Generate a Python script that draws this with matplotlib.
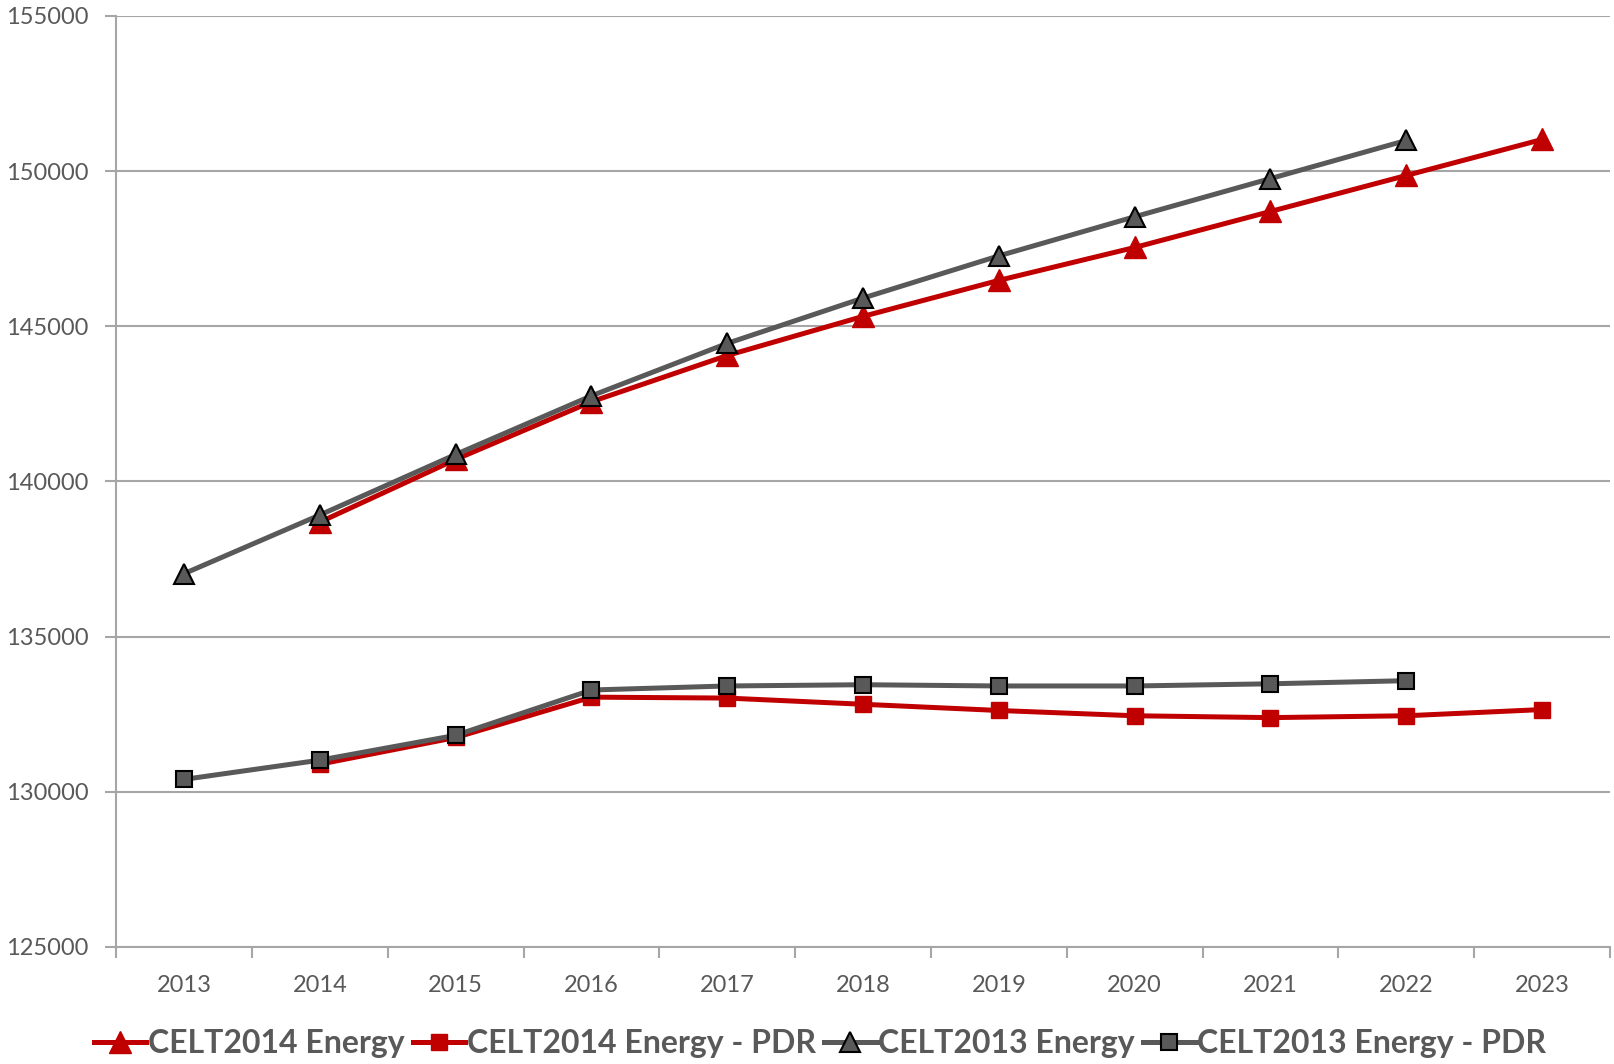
import matplotlib
matplotlib.use("Agg")
import matplotlib.pyplot as plt
from matplotlib.ticker import MultipleLocator, FixedLocator

# data (CELT2014 series start in 2014)
years = ["2013", "2014", "2015", "2016", "2017", "2018", "2019", "2020", "2021", "2022", "2023"]
celt2014_energy = [None, 138690, 140710, 142570, 144060, 145320, 146480, 147540, 148700, 149860, 151020]
celt2014_pdr = [None, 130890, 131750, 133050, 133020, 132820, 132620, 132450, 132390, 132450, 132650]
celt2013_energy = [137030, 138920, 140870, 142760, 144450, 145910, 147270, 148530, 149760, 150990]
celt2013_pdr = [130400, 131020, 131820, 133280, 133410, 133450, 133410, 133410, 133480, 133580]

RED = "#C00000"
GRAY = "#595959"
GRID = "#A6A6A6"
TXT = "#595959"

plt.rcParams["font.family"] = ["Lato", "DejaVu Sans"]

fig = plt.figure(figsize=(16.14, 10.64), dpi=100)
ax = fig.add_axes([0.072, 0.110, 0.9255, 0.875])

x = list(range(len(years)))
red_e = [float("nan") if v is None else v for v in celt2014_energy]
red_p = [float("nan") if v is None else v for v in celt2014_pdr]

ax.plot(x, red_e, color=RED, lw=3.6, marker="^", ms=16,
        mfc=RED, mec=RED, label="CELT2014 Energy", zorder=3)
ax.plot(x, red_p, color=RED, lw=3.6, marker="s", ms=12,
        mfc=RED, mec=RED, label="CELT2014 Energy - PDR", zorder=3)
ax.plot(x[:len(celt2013_energy)], celt2013_energy, color=GRAY, lw=3.6, marker="^", ms=15,
        mfc=GRAY, mec="black", mew=1.5, label="CELT2013 Energy", zorder=4)
ax.plot(x[:len(celt2013_pdr)], celt2013_pdr, color=GRAY, lw=3.6, marker="s", ms=11,
        mfc=GRAY, mec="black", mew=1.5, label="CELT2013 Energy - PDR", zorder=4)

ax.set_xlim(-0.5, len(years) - 0.5)
ax.set_ylim(125000, 155000)
ax.yaxis.set_major_locator(MultipleLocator(5000))
ax.ticklabel_format(axis="y", useOffset=False, style="plain")

ax.set_xticks(x)
ax.set_xticklabels(years)
ax.xaxis.set_minor_locator(FixedLocator([i - 0.5 for i in range(len(years) + 1)]))
ax.tick_params(axis="x", which="major", length=0, pad=20, labelsize=17, labelcolor=TXT)
ax.tick_params(axis="x", which="minor", length=8, width=1.5, color=GRID, direction="out")
ax.tick_params(axis="y", which="major", length=8, width=1.5, color=GRID, pad=12,
               labelsize=17, labelcolor=TXT)

ax.grid(axis="y", color=GRID, lw=1.5)
ax.set_axisbelow(True)
for side in ["top", "right"]:
    ax.spines[side].set_visible(False)
for side in ["left", "bottom"]:
    ax.spines[side].set_color(GRID)
    ax.spines[side].set_linewidth(1.5)

leg = fig.legend(loc="center", bbox_to_anchor=(0.508, 0.019), ncol=4, frameon=False,
                 handlelength=1.65, handletextpad=0.05, columnspacing=0.25,
                 prop={"weight": "bold", "size": 23})
for t in leg.get_texts():
    t.set_color(TXT)

fig.savefig("out.png", dpi=100)
